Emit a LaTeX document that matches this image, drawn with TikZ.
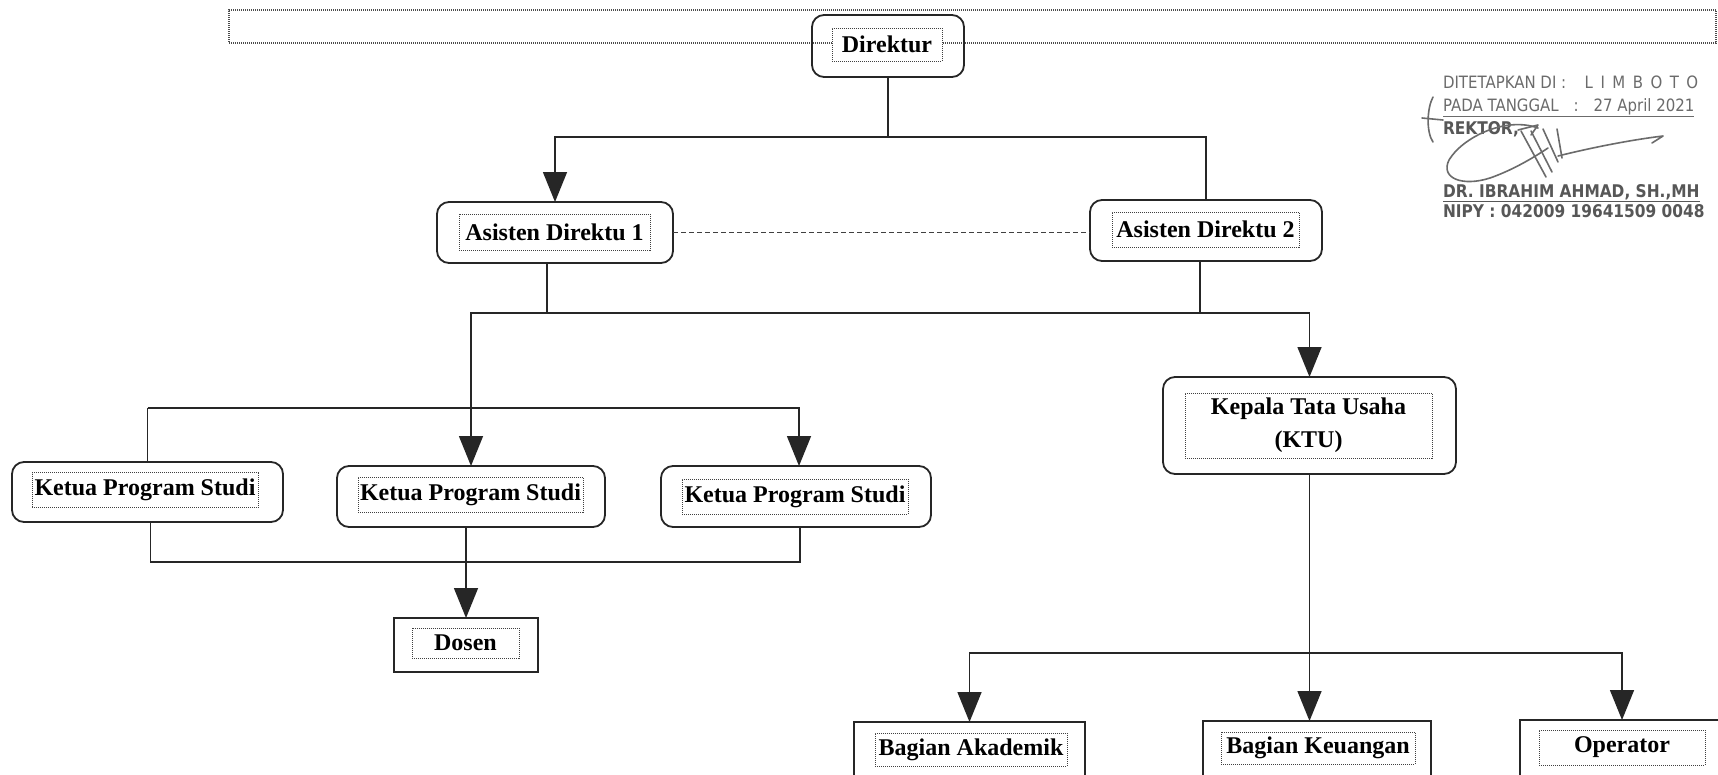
\documentclass[tikz,border=0pt]{standalone}
\usepackage{fontspec}
\setmainfont{Liberation Serif}
\newfontfamily\stampfont{DejaVu Sans}
\usetikzlibrary{arrows.meta}

% narrow stamp lettering
\newcommand{\stampnarrow}[1]{\scalebox{0.88}[1]{#1}}

\begin{document}
\begin{tikzpicture}[x=1pt,y=-1pt,
  every node/.style={inner sep=0pt,outer sep=0pt},
  unitbox/.style={draw=black!85,line width=1.8pt,rounded corners=12pt},
  plainbox/.style={draw=black!85,line width=1.8pt},
  labelframe/.style={draw=black!75,fill=white,line width=0.9pt,dash pattern=on 1pt off 1pt,
    font=\bfseries\fontsize{24}{33}\selectfont,align=center},
  link/.style={draw=black!85,line width=1.5pt},
  arr/.style={link,-{Triangle[width=24pt,length=30pt]}},
  stamp/.style={anchor=base west,text=black!58,font=\stampfont\fontsize{17}{20}\selectfont},
  stampbold/.style={anchor=base west,text=black!66,font=\stampfont\bfseries\fontsize{17.5}{20}\selectfont},
  inkline/.style={draw=black!58,line width=1.6pt,line cap=round,line join=round}
]
\useasboundingbox (0,0) rectangle (1718,774);
\clip (0,0) rectangle (1718,774);
\fill[white] (0,0) rectangle (1718,774);

% header strip
\node[draw=black!70,line width=1.3pt,dash pattern=on 1pt off 1pt,
  minimum width=1487pt,minimum height=33pt] (hdr) at (972.5,26.5) {};

% boxes
\node[unitbox,minimum width=152pt,minimum height=62pt] (dir) at (888,46) {};
\node[unitbox,minimum width=236pt,minimum height=61pt] (as1) at (555,232.5) {};
\node[unitbox,minimum width=232pt,minimum height=61pt] (as2) at (1206,230.5) {};
\node[unitbox,minimum width=271pt,minimum height=60pt] (k1) at (147.5,492) {};
\node[unitbox,minimum width=268pt,minimum height=61pt] (k2) at (471,496.5) {};
\node[unitbox,minimum width=270pt,minimum height=61pt] (k3) at (796,496.5) {};
\node[plainbox,minimum width=144pt,minimum height=54pt] (dos) at (466,645) {};
\node[unitbox,minimum width=293pt,minimum height=97pt] (ktu) at (1309.5,425.5) {};
\node[plainbox,minimum width=231pt,minimum height=98pt] (ba) at (969.5,771) {};
\node[plainbox,minimum width=228pt,minimum height=99pt] (bk) at (1317,770.5) {};
\node[plainbox,minimum width=240pt,minimum height=100pt] (op) at (1640,770) {};

% text frames
\node[labelframe,minimum width=110pt,minimum height=33pt] (dirT) at (887,44.5) {Direktur};
\node[labelframe,minimum width=191pt,minimum height=36pt] (as1T) at (554.5,232) {Asisten Direktu 1};
\node[labelframe,minimum width=187pt,minimum height=35pt] (as2T) at (1205.5,229.5) {Asisten Direktu 2};
\node[labelframe,minimum width=226pt,minimum height=35pt] (k1T) at (145,490) {Ketua Program Studi};
\node[labelframe,minimum width=225pt,minimum height=35pt] (k2T) at (470.5,494.5) {Ketua Program Studi};
\node[labelframe,minimum width=226pt,minimum height=35pt] (k3T) at (795,496.5) {Ketua Program Studi};
\node[labelframe,minimum width=107pt,minimum height=30pt] (dosT) at (465.5,643) {Dosen};
\node[labelframe,minimum width=247pt,minimum height=65pt] (ktuT) at (1308.5,425.5) {Kepala Tata Usaha\\(KTU)};
\node[labelframe,minimum width=192pt,minimum height=33pt] (baT) at (971,749.5) {Bagian Akademik};
\node[labelframe,minimum width=194pt,minimum height=32pt] (bkT) at (1318,748) {Bagian Keuangan};
\node[labelframe,minimum width=166pt,minimum height=35pt] (opT) at (1622,747.5) {Operator};

% junction levels
\coordinate (j1) at (0,137);
\coordinate (j2) at (0,313);
\coordinate (j3) at (0,408);
\coordinate (j4) at (0,562);
\coordinate (j5) at (0,653);

% Direktur to assistants
\draw[link] (dir.south) -- (dir.south |- j1);
\draw[arr] (dir.south |- j1) -| (as1.north);
\draw[link] (dir.south |- j1) -| (as2.north);
\draw[link,draw=black!75,line width=1.3pt,dash pattern=on 5pt off 3pt] (as1.east) -- (as1.east -| as2.west);

% assistants to programme heads and KTU
\draw[link] ([xshift=-8pt]as1.south) -- ([xshift=-8pt]as1.south |- j2);
\draw[link] ([xshift=-6pt]as2.south) -- ([xshift=-6pt]as2.south |- j2);
\draw[arr] ([xshift=-8pt]as1.south |- j2) -| (k2.north);
\draw[arr] ([xshift=-8pt]as1.south |- j2) -| (ktu.north);

% programme heads
\draw[link] (k1.north) -- (k1.north |- j3);
\draw[arr] (k1.north |- j3) -| ([xshift=3pt]k3.north);
\draw[link] ([xshift=3pt]k1.south) -- ([xshift=3pt]k1.south |- j4) -| ([xshift=4pt]k3.south);
\draw[arr] ([xshift=-5pt]k2.south) -- ([xshift=-5pt]k2.south |- dos.north);

% KTU to sections
\draw[arr] (ktu.south) -- (ktu.south |- bk.north);
\draw[arr] (ktu.south |- j5) -| (ba.north);
\draw[arr] (ktu.south |- j5) -| ([xshift=-18pt]op.north);

% endorsement stamp
\node[stamp] (s1) at (1443,88) {\stampnarrow{DITETAPKAN DI :\hspace{21pt}L\hspace{8.5pt}I\hspace{8.5pt}M\hspace{8.5pt}B\hspace{8.5pt}O\hspace{8.5pt}T\hspace{8.5pt}O}};
\node[stamp] (s2) at (1443,111) {\stampnarrow{\underline{PADA TANGGAL\hspace{17pt}:\hspace{17pt}27 April 2021}}};
\node[stampbold] (s3) at (1443,134) {\stampnarrow{REKTOR,}};
\node[stampbold] (s4) at (1443,197) {\stampnarrow{\underline{DR. IBRAHIM AHMAD, SH.,MH}}};
\node[stampbold] (s5) at (1443,217) {\stampnarrow{NIPY : 042009 19641509 0048}};

% signature strokes
\draw[inkline] (1433,97) .. controls (1427,108) and (1426,132) .. (1433,142);
\draw[inkline] (1422,118) -- (1443,120);
\draw[inkline] (1538,128) .. controls (1505,116) and (1462,138) .. (1449,160)
  .. controls (1440,178) and (1462,187) .. (1490,178)
  .. controls (1510,171) and (1530,160) .. (1548,148);
\draw[inkline] (1521,131) -- (1546,177);
\draw[inkline] (1531,131) -- (1552,172);
\draw[inkline] (1543,129) -- (1558,162);
\draw[inkline] (1557,129) -- (1562,158);
\draw[inkline] (1518,130) -- (1538,125) -- (1531,135);
\draw[inkline] (1558,156) .. controls (1590,148) and (1630,140) .. (1663,136) -- (1652,143);
\end{tikzpicture}
\end{document}
